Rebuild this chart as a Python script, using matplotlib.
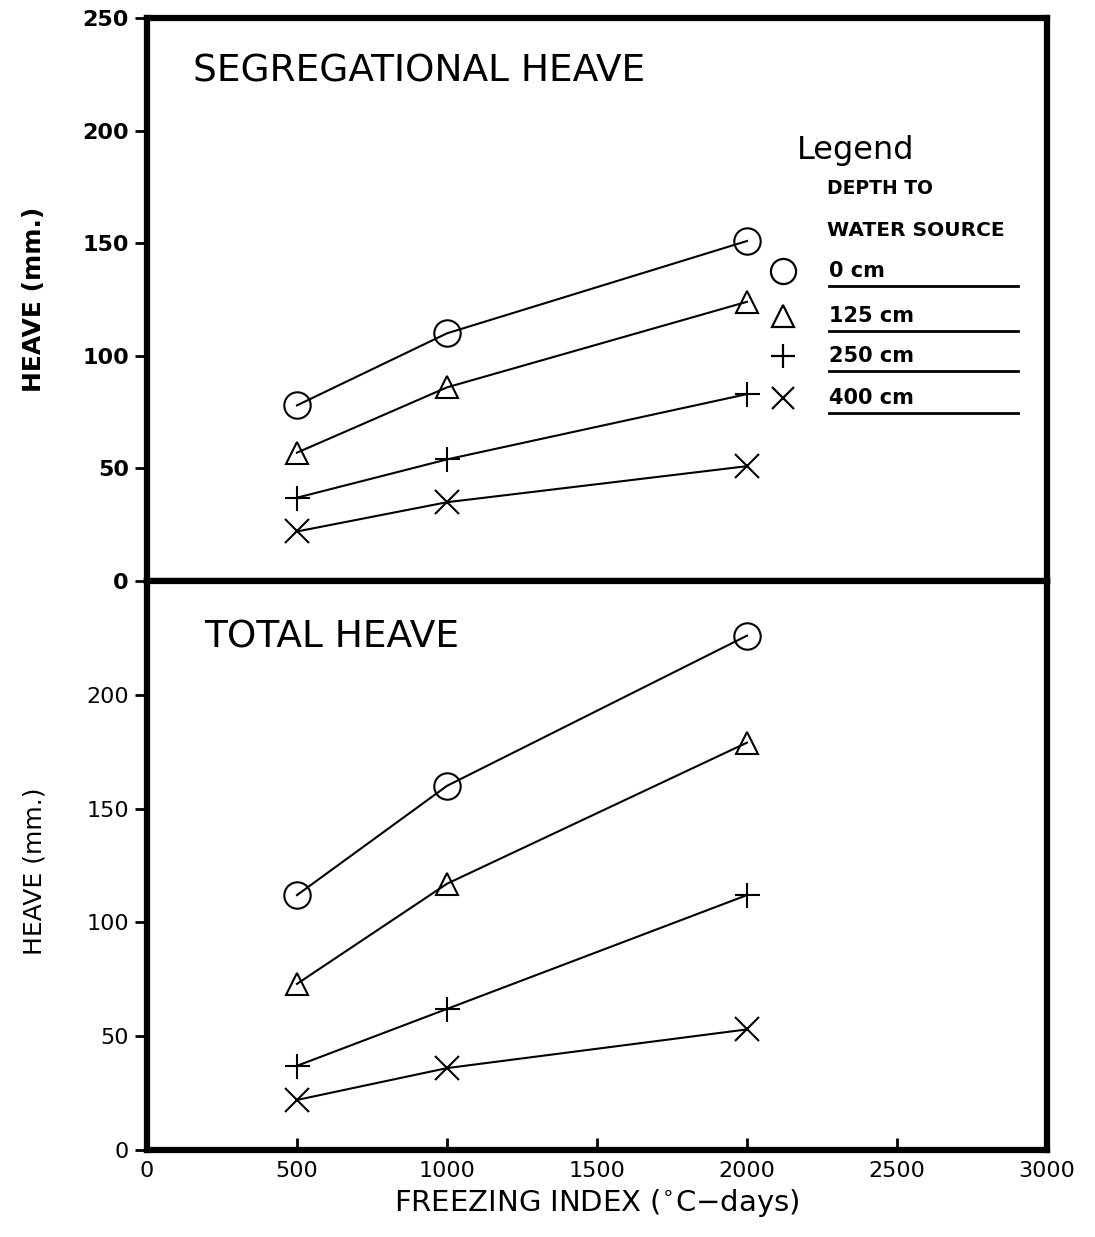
import matplotlib.pyplot as plt
from matplotlib.lines import Line2D

# dados
freezing_index = [500, 1000, 2000]
depths = ['0 cm', '125 cm', '250 cm', '400 cm']
markers = ['o', '^', '+', 'x']

seg_heave = {
    '0 cm': [78, 110, 151],
    '125 cm': [57, 86, 124],
    '250 cm': [37, 54, 83],
    '400 cm': [22, 35, 51],
}
total_heave = {
    '0 cm': [112, 160, 226],
    '125 cm': [73, 117, 179],
    '250 cm': [37, 62, 112],
    '400 cm': [22, 36, 53],
}

x_ticks = [0, 500, 1000, 1500, 2000, 2500, 3000]
y_ticks_top = [0, 50, 100, 150, 200, 250]
y_ticks_bottom = [0, 50, 100, 150, 200]

fig = plt.figure(figsize=(10.95, 12.37), dpi=100)
ax1 = fig.add_axes([0.1342, 0.5303, 0.822, 0.4551])
ax2 = fig.add_axes([0.1342, 0.0703, 0.822, 0.4600])

marker_sizes = {'o': 19, '^': 16, '+': 18, 'x': 17}


def draw_panel(ax, data, yticks, bold):
    for depth, m in zip(depths, markers):
        ax.plot(freezing_index, data[depth], color='black', lw=1.5,
                marker=m, ms=marker_sizes[m], mfc='none', mec='black',
                mew=1.5, zorder=3)
    ax.set_xlim(0, 3000)
    ax.set_ylim(0, 250)
    ax.set_xticks(x_ticks)
    ax.set_yticks(yticks)
    for s in ax.spines.values():
        s.set_linewidth(4.5)
    ax.tick_params(axis='y', direction='out', length=9, width=2, pad=4,
                   labelsize=16)
    ax.tick_params(axis='x', direction='in', length=9, width=2, pad=8,
                   labelsize=16)
    for lb in ax.get_yticklabels():
        lb.set_fontweight('bold' if bold else 'normal')
    ax.set_ylabel('HEAVE (mm.)', fontsize=18,
                  fontweight='bold' if bold else 'normal')


draw_panel(ax1, seg_heave, y_ticks_top, True)
draw_panel(ax2, total_heave, y_ticks_bottom, False)
ax1.tick_params(axis='x', labelbottom=False, length=0)
ax1.yaxis.set_label_coords(-0.112, 0.5)
ax2.yaxis.set_label_coords(-0.112, 0.49)

ax2.set_xlabel('FREEZING INDEX ($^{\\circ}$C$-$days)', fontsize=21, labelpad=4)

ax1.text(0.051, 0.905, 'SEGREGATIONAL HEAVE', transform=ax1.transAxes,
         fontsize=27, va='center', ha='left')
ax2.text(0.064, 0.9, 'TOTAL HEAVE', transform=ax2.transAxes,
         fontsize=27, va='center', ha='left')

# legenda desenhada a mao
ax1.text(0.722, 0.765, 'Legend', transform=ax1.transAxes, fontsize=23,
         va='center', ha='left')
ax1.text(0.755, 0.697, 'DEPTH TO', transform=ax1.transAxes, fontsize=13.5,
         fontweight='bold', va='center', ha='left')
ax1.text(0.755, 0.623, 'WATER SOURCE', transform=ax1.transAxes, fontsize=14.5,
         fontweight='bold', va='center', ha='left')
leg_y = [0.551, 0.471, 0.4, 0.325]
for depth, m, yy in zip(depths, markers, leg_y):
    ax1.plot([0.707], [yy], transform=ax1.transAxes, marker=m,
             ms=marker_sizes[m] * 0.95, mfc='none', mec='black', mew=1.6,
             color='black', ls='none', clip_on=False)
    ax1.text(0.758, yy, depth, transform=ax1.transAxes, fontsize=15,
             fontweight='bold', va='center', ha='left')
    ax1.add_line(Line2D([0.758, 0.968], [yy - 0.027, yy - 0.027],
                        transform=ax1.transAxes, color='black', lw=2))

fig.savefig('out.png', dpi=100)
